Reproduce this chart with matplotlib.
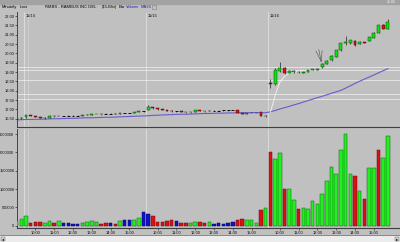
import matplotlib
matplotlib.use('Agg')
import matplotlib.pyplot as plt
from matplotlib.patches import Rectangle
import numpy as np

plt.rcParams['font.family'] = ['Liberation Sans', 'DejaVu Sans']

# ---------------- data (15-min bars, index -2 .. 77) ----------------
opens = [16.50, 16.52,
         16.58, 16.68, 16.65, 16.60, 16.53, 16.55, 16.65, 16.63, 16.65, 16.66, 16.67, 16.67, 16.67,
         16.70, 16.72, 16.74, 16.76, 16.76, 16.76, 16.77, 16.75, 16.80, 16.81, 16.81, 16.85, 16.90,
         16.98, 17.13, 17.05, 17.00, 16.97, 16.94, 16.89, 16.89, 16.86, 16.84, 16.87, 16.95, 16.92,
         16.90, 16.94, 16.94, 16.95, 16.95, 16.96, 16.96, 16.82, 16.76, 16.79, 16.80, 16.84, 16.63,
         18.42, 18.38, 19.05, 19.22, 18.96, 18.98, 19.02, 18.97, 19.00, 19.12, 19.13, 19.25, 19.44,
         19.62, 19.82, 20.16, 20.56, 20.54, 20.66, 20.52, 20.59, 20.68, 20.84, 21.10, 21.50, 21.30]
highs = [16.56, 16.57,
         16.72, 16.70, 16.67, 16.61, 16.57, 16.69, 16.66, 16.67, 16.66, 16.68, 16.69, 16.69, 16.72,
         16.73, 16.75, 16.77, 16.77, 16.78, 16.78, 16.78, 16.82, 16.82, 16.83, 16.86, 16.91, 16.93,
         17.24, 17.15, 17.07, 17.02, 16.99, 16.95, 16.91, 16.90, 16.87, 16.88, 16.97, 16.96, 16.93,
         16.96, 16.95, 16.96, 16.97, 16.97, 16.98, 16.97, 16.83, 16.80, 16.82, 16.83, 16.86, 16.68,
         18.62, 19.20, 19.55, 19.26, 19.10, 19.10, 19.04, 19.01, 19.12, 19.16, 19.19, 19.48, 19.62,
         19.92, 20.20, 20.58, 20.92, 20.72, 20.70, 20.64, 20.62, 20.88, 21.13, 21.53, 21.55, 21.85]
lows = [16.48, 16.49,
        16.55, 16.63, 16.58, 16.52, 16.51, 16.54, 16.61, 16.62, 16.63, 16.65, 16.66, 16.66, 16.67,
        16.69, 16.71, 16.73, 16.72, 16.73, 16.75, 16.74, 16.74, 16.79, 16.80, 16.80, 16.84, 16.88,
        16.96, 17.02, 16.98, 16.95, 16.92, 16.87, 16.87, 16.84, 16.82, 16.83, 16.86, 16.90, 16.88,
        16.89, 16.93, 16.93, 16.94, 16.94, 16.95, 16.80, 16.75, 16.75, 16.78, 16.79, 16.62, 16.61,
        18.15, 18.32, 19.00, 18.92, 18.93, 18.96, 18.97, 18.95, 18.99, 19.10, 19.12, 19.22, 19.42,
        19.60, 19.80, 20.14, 20.45, 20.52, 20.42, 20.50, 20.53, 20.66, 20.82, 21.08, 21.28, 21.28]
closes = [16.53, 16.55,
          16.68, 16.65, 16.60, 16.54, 16.55, 16.65, 16.63, 16.65, 16.65, 16.66, 16.67, 16.67, 16.70,
          16.72, 16.74, 16.76, 16.74, 16.75, 16.76, 16.75, 16.80, 16.80, 16.81, 16.85, 16.89, 16.90,
          17.15, 17.05, 17.00, 16.97, 16.94, 16.89, 16.89, 16.86, 16.84, 16.87, 16.95, 16.92, 16.90,
          16.94, 16.94, 16.94, 16.95, 16.95, 16.96, 16.82, 16.77, 16.79, 16.81, 16.82, 16.64, 16.66,
          18.38, 19.10, 19.22, 18.95, 19.06, 19.07, 18.99, 18.99, 19.10, 19.14, 19.17, 19.45, 19.60,
          19.88, 20.16, 20.55, 20.59, 20.70, 20.46, 20.62, 20.56, 20.86, 21.10, 21.50, 21.30, 21.68]
volumes = [130000, 180000,
           270000, 70000, 90000, 110000, 80000, 135000, 75000, 125000, 65000, 65000, 40000, 40000,
           65000, 90000, 125000, 110000, 55000, 75000, 75000, 55000, 125000, 150000, 150000, 165000,
           215000, 370000,
           320000, 265000, 110000, 110000, 125000, 145000, 125000, 75000, 75000, 75000, 110000,
           110000, 65000, 110000, 45000, 65000, 45000, 80000, 110000, 155000, 170000, 155000,
           155000, 80000, 427000, 490000,
           2010000, 1830000, 1980000, 1000000, 1000000, 700000, 454000, 490000, 454000, 671000,
           580000, 853000, 1210000, 1590000, 1420000, 2080000, 2510000, 1400000, 1350000, 943000,
           717000, 1580000, 1580000, 2080000, 1860000, 2460000]
vol_colors = list("gg" "grrrggrgbbbbggggrrbrgbbggb" "brrrrrbrrggrrgbbbbbrrgggrg"
                  "rggrggrgggggggggggrgrggrg" "g")
ma34 = [16.44, 16.45,
        16.46, 16.46, 16.47, 16.47, 16.48, 16.49, 16.50, 16.50, 16.51, 16.52, 16.52, 16.53, 16.54,
        16.55, 16.55, 16.56, 16.57, 16.58, 16.58, 16.59, 16.60, 16.61, 16.62, 16.63, 16.64, 16.65,
        16.66, 16.68, 16.69, 16.70, 16.71, 16.72, 16.73, 16.74, 16.74, 16.75, 16.76, 16.77, 16.78,
        16.78, 16.79, 16.80, 16.80, 16.81, 16.81, 16.82, 16.82, 16.82, 16.83, 16.83, 16.82, 16.82,
        16.87, 16.94, 17.02, 17.09, 17.16, 17.24, 17.31, 17.39, 17.47, 17.55, 17.63, 17.70, 17.78,
        17.86, 17.94, 18.02, 18.14, 18.26, 18.39, 18.51, 18.62, 18.73, 18.84, 18.96, 19.07, 19.18]
white_curve = [16.84, 17.75, 18.45, 18.77, 18.94, 18.99, 19.04, 19.10]   # bars 52..59
level_lines = [19.27, 19.13, 18.56, 17.84, 17.58]
day_labels = ["11/14", "11/15", "11/16"]
day_starts = [0, 26, 52]
time_labels = ["10:00", "11:00", "12:00", "13:00", "14:00", "15:00"]
time_offsets = [2, 6, 10, 14, 18, 22]
price_ticks = [16.5, 17.0, 17.5, 18.0, 18.5, 19.0, 19.5, 20.0, 20.5, 21.0, 21.5, 22.0]
vol_ticks = [0, 500000, 1000000, 1500000, 2000000, 2500000]

idx = np.arange(-2, 78)
n = len(idx)
assert len(opens) == len(highs) == len(lows) == len(closes) == len(volumes) == len(ma34) == n
vol_colors = (vol_colors + ['g'] * n)[:n]

# ---------------- layout ----------------
W, H = 400, 242
BG = '#c0c0c0'
fig = plt.figure(figsize=(W / 100, H / 100), dpi=100, facecolor=BG)

def rect(x0, y0, x1, y1):
    return [x0 / W, 1 - y1 / H, (x1 - x0) / W, (y1 - y0) / H]

deco = fig.add_axes([0, 0, 1, 1])
deco.set_xlim(0, W); deco.set_ylim(H, 0); deco.axis('off')
deco.add_patch(Rectangle((0, 0), W, 3.5, color='#a2a2a2'))
deco.text(396, 1.8, "21.85", fontsize=2.6, color='#f4f4f4', ha='right', va='center')
hdr = [("Minutely", 2, 'black'), ("Last", 20, 'black'),
       ("RMBS - RAMBUS INC DEL", 45, 'black'), ("(15-Min)", 102, 'black'),
       ("Bar", 118.5, 'black'), ("Volume", 125.5, '#2020d0'), ("MA34", 141, '#2020d0')]
for t, x, c in hdr:
    deco.text(x, 7.3, t, fontsize=3.0, color=c, ha='left', va='center')
deco.add_patch(Rectangle((152, 5), 3.5, 4, fc='none', ec='#808080', lw=0.4))
# bottom scrollbar
deco.add_patch(Rectangle((0, 235.5), W, 6.5, color='#ececec'))
deco.plot([0, W], [235.3, 235.3], color='#707070', lw=0.5)
deco.add_patch(Rectangle((0.5, 236.5), 4.5, 4.5, fc='#d0d0d0', ec='#606060', lw=0.3))
deco.text(2.7, 238.8, "◂", fontsize=3, ha='center', va='center', color='black')
deco.add_patch(Rectangle((394.5, 236.5), 4.5, 4.5, fc='#d0d0d0', ec='#606060', lw=0.3))
deco.text(396.7, 238.8, "▸", fontsize=3, ha='center', va='center', color='black')

X0, DX = 26.0, 4.7
xl = ((17 - X0) / DX, (W - X0) / DX)

pax = fig.add_axes(rect(17, 12, W, 127.5))
vax = fig.add_axes(rect(17, 128.5, W, 228))
for ax in (pax, vax):
    ax.set_facecolor(BG)
    ax.set_xlim(*xl)
    for s in ('top', 'right'):
        ax.spines[s].set_visible(False)
    ax.spines['left'].set_color('#303030')
    ax.spines['left'].set_linewidth(0.6)
    ax.spines['bottom'].set_color('#404040')
    ax.spines['bottom'].set_linewidth(0.8)
    for d in day_starts:
        ax.axvline(d - 0.45, color='#e6e6e6', lw=0.5, zorder=0)
    ax.axvline(0.5, color='#d6d6d6', lw=0.4, zorder=0)
    ax.tick_params(axis='y', length=1.2, width=0.4, pad=0.8, labelsize=2.9, colors='#101010')

# price panel
pax.set_ylim(16.03, 22.215)
pax.set_yticks(price_ticks)
pax.set_yticklabels(["%.2f" % v for v in price_ticks])
pax.set_xticks([])
for lv in level_lines:
    pax.axhline(lv, color='#f2f2f2', lw=0.5, zorder=1)
for lab, d in zip(day_labels, day_starts):
    pax.text(d - 0.1, 21.98, lab, fontsize=3.0, color='#101010', ha='left', va='center')

pax.plot(idx, ma34, color='#6a5acd', lw=0.8, zorder=2)
pax.plot(idx[54:54 + len(white_curve)], white_curve, color='#f4f4f4', lw=0.6, zorder=2)
# hand drawn annotation marks
pax.plot([61.7, 62.8], [20.12, 19.57], color='#505050', lw=0.4, zorder=2)
pax.plot([62.3, 62.8], [20.20, 19.57], color='#505050', lw=0.4, zorder=2)
pax.plot([63.0, 62.8], [20.15, 19.57], color='#505050', lw=0.4, zorder=2)

o = np.array(opens); c = np.array(closes)
hi = np.array(highs); lo = np.array(lows)
pax.vlines(idx, lo, hi, color='#101010', lw=0.45, zorder=3)
bw = 0.62
for x, oo, cc in zip(idx, o, c):
    if abs(cc - oo) < 0.012:
        pax.hlines(oo, x - bw / 2, x + bw / 2, color='#101010', lw=0.7, zorder=4)
    else:
        up = cc > oo
        pax.bar(x, abs(cc - oo), bottom=min(oo, cc), width=bw,
                color='#10e010' if up else '#dd1010',
                edgecolor='#0a4a0a' if up else '#4a0a0a', lw=0.35, zorder=4)

# volume panel
vax.set_ylim(-62500, 2655000)
vax.set_yticks(vol_ticks)
vax.set_yticklabels([str(v) for v in vol_ticks])
cmap = {'g': ('#22ee22', '#106010'), 'r': ('#dd1010', '#601010'), 'b': ('#1010cc', '#080860')}
vax.bar(idx, volumes, width=0.76,
        color=[cmap[k][0] for k in vol_colors],
        edgecolor=[cmap[k][1] for k in vol_colors], lw=0.35, zorder=3)
tpos, tlab = [], []
for d in day_starts:
    for off, lab in zip(time_offsets, time_labels):
        tpos.append(d + off); tlab.append(lab)
vax.set_xticks(tpos)
vax.set_xticklabels(tlab)
vax.tick_params(axis='x', length=1.2, width=0.4, pad=0.8, labelsize=2.9, colors='#101010')

fig.savefig('out.png', dpi=100, facecolor=BG)
